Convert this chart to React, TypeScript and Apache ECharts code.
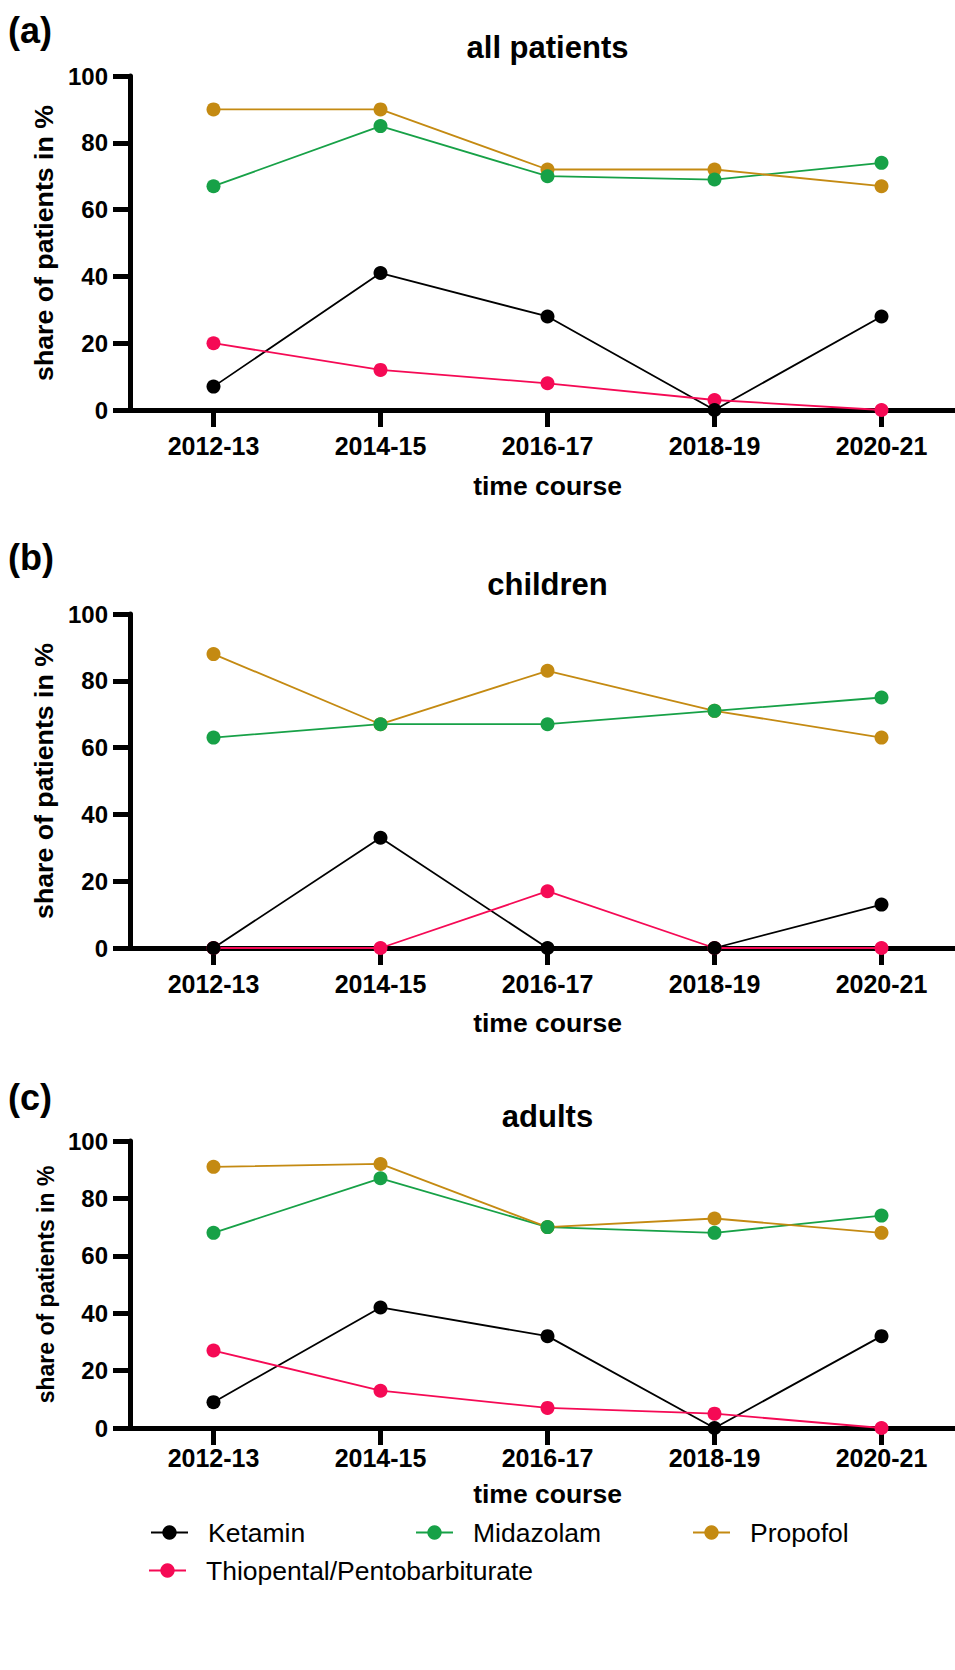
import React, { useEffect, useRef } from 'react';
import * as echarts from 'echarts';

const categories = ['2012-13', '2014-15', '2016-17', '2018-19', '2020-21'];
const drugNames = ['Ketamin', 'Midazolam', 'Propofol', 'Thiopental/Pentobarbiturate'];
const panelLabels = ['(a)', '(b)', '(c)'];
const panelTitles = ['all patients', 'children', 'adults'];

const allKetamin = [7, 41, 28, 0, 28];
const allMidazolam = [67, 85, 70, 69, 74];
const allPropofol = [90, 90, 72, 72, 67];
const allThiopental = [20, 12, 8, 3, 0];

const childKetamin = [0, 33, 0, 0, 13];
const childMidazolam = [63, 67, 67, 71, 75];
const childPropofol = [88, 67, 83, 71, 63];
const childThiopental = [0, 0, 17, 0, 0];

const adultKetamin = [9, 42, 32, 0, 32];
const adultMidazolam = [68, 87, 70, 68, 74];
const adultPropofol = [91, 92, 70, 73, 68];
const adultThiopental = [27, 13, 7, 5, 0];

const panelData = [
  [allKetamin, allMidazolam, allPropofol, allThiopental],
  [childKetamin, childMidazolam, childPropofol, childThiopental],
  [adultKetamin, adultMidazolam, adultPropofol, adultThiopental],
];

const COLORS = ['#000000', '#17A147', '#C48A12', '#F50A55'];
const FONT = '"Liberation Sans", Arial, Helvetica, sans-serif';

// layout (pixels)
const GRID_LEFT = 130;
const GRID_WIDTH = 835;
const grids = [
  { top: 76, height: 334, labelY: 31, titleY: 47, xLabelMargin: 23, xNameGap: 62, yNameSize: 26.7, yNameGap: 73 },
  { top: 614, height: 334, labelY: 558, titleY: 584, xLabelMargin: 23, xNameGap: 61, yNameSize: 26.7, yNameGap: 73 },
  { top: 1141, height: 287, labelY: 1098, titleY: 1116, xLabelMargin: 17, xNameGap: 52, yNameSize: 23, yNameGap: 73 },
];

// line z-order: Ketamin, Midazolam, Propofol, Thiopental (pink on top)
// symbol z-order: Thiopental, Propofol, Midazolam, Ketamin (black on top)
const symbolOrder = [3, 2, 1, 0];

const legendPos = [
  { left: 150, top: 1519 },
  { left: 415, top: 1519 },
  { left: 692, top: 1519 },
  { left: 148, top: 1557 },
];

export default function App() {
  const ref = useRef<HTMLDivElement>(null);

  useEffect(() => {
    if (!ref.current) return;
    const chart = echarts.init(ref.current, undefined, { renderer: 'svg' });

    const axisLineStyle = { color: '#000', width: 5 };
    const boldText = { color: '#000', fontWeight: 'bold' as const, fontFamily: FONT };

    const gridOpt = grids.map((g) => ({
      left: GRID_LEFT,
      width: GRID_WIDTH,
      top: g.top,
      height: g.height,
      containLabel: false,
      outerBoundsMode: 'none',
    }));

    const xAxes = grids.map((g, i) => ({
      type: 'category',
      gridIndex: i,
      data: categories,
      boundaryGap: true,
      axisLine: { show: true, lineStyle: axisLineStyle },
      axisTick: { show: true, alignWithLabel: true, length: 17, lineStyle: axisLineStyle },
      axisLabel: { ...boldText, fontSize: 25, margin: g.xLabelMargin },
      splitLine: { show: false },
      name: 'time course',
      nameLocation: 'middle',
      nameGap: g.xNameGap,
      nameTextStyle: { ...boldText, fontSize: 26.5 },
    }));

    const yAxes = grids.map((g, i) => ({
      type: 'value',
      gridIndex: i,
      min: 0,
      max: 100,
      interval: 20,
      axisLine: { show: true, lineStyle: axisLineStyle },
      axisTick: { show: true, length: 17, lineStyle: axisLineStyle },
      axisLabel: { ...boldText, fontSize: 24, margin: 22 },
      splitLine: { show: false },
      name: 'share of patients in %',
      nameLocation: 'middle',
      nameGap: g.yNameGap,
      nameTextStyle: { ...boldText, fontSize: g.yNameSize },
    }));

    const series: any[] = [];
    panelData.forEach((panel, p) => {
      panel.forEach((values, d) => {
        series.push({
          type: 'line',
          name: drugNames[d],
          xAxisIndex: p,
          yAxisIndex: p,
          data: values,
          symbol: 'circle',
          showSymbol: false,
          color: COLORS[d],
          lineStyle: { color: COLORS[d], width: 1.8 },
          z: 2 + d * 0.01,
          silent: true,
        });
      });
      symbolOrder.forEach((d, k) => {
        series.push({
          type: 'scatter',
          name: drugNames[d],
          xAxisIndex: p,
          yAxisIndex: p,
          data: panel[d],
          symbol: 'circle',
          symbolSize: 14,
          itemStyle: { color: COLORS[d], opacity: 1 },
          z: 3 + k * 0.01,
          silent: true,
        });
      });
    });

    const legends = drugNames.map((name, d) => ({
      data: [name],
      left: legendPos[d].left,
      top: legendPos[d].top,
      padding: 0,
      itemWidth: 37,
      itemHeight: 18,
      selectedMode: false,
      textStyle: { color: '#000', fontSize: 26.5, fontFamily: FONT, padding: [0, 0, 0, 15] },
    }));

    const graphics: any[] = [];
    grids.forEach((g, i) => {
      graphics.push({
        type: 'text',
        left: 8,
        top: g.labelY - 19,
        style: { text: panelLabels[i], fill: '#000', font: `bold 36px ${FONT}` },
      });
      graphics.push({
        type: 'text',
        x: GRID_LEFT + GRID_WIDTH / 2,
        y: g.titleY,
        style: {
          text: panelTitles[i],
          fill: '#000',
          font: `bold 31px ${FONT}`,
          textAlign: 'center',
          textVerticalAlign: 'middle',
        },
      });
    });

    chart.setOption({
      animation: false,
      backgroundColor: '#ffffff',
      grid: gridOpt,
      xAxis: xAxes,
      yAxis: yAxes,
      legend: legends,
      graphic: graphics,
      series,
    } as any);

    return () => {
      chart.dispose();
    };
  }, []);

  return (
    <div
      ref={ref}
      style={{ position: 'absolute', left: 0, top: 0, width: 955, height: 1670, background: '#fff' }}
    />
  );
}
